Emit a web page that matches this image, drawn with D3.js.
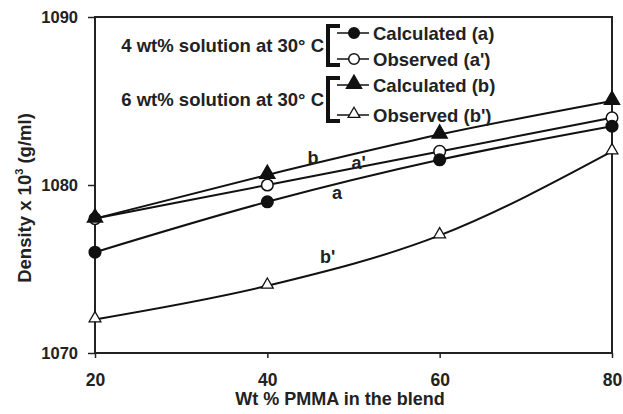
<!DOCTYPE html>
<html>
<head>
<meta charset="utf-8">
<script src="https://cdn.jsdelivr.net/npm/d3@7"></script>
<style>
  body { margin: 0; background: #fff; }
  text { font-family: "Liberation Sans", Arial, sans-serif; font-weight: bold; fill: #222; }
</style>
</head>
<body>
<svg id="chart" width="623" height="414"></svg>
<script>
// data
var pmma = [20, 40, 60, 80];
var calcA = [1076, 1079, 1081.5, 1083.5];   // calculated (a)
var obsA  = [1078, 1080, 1082, 1084];       // observed (a')
var calcB = [1078, 1080.6, 1083, 1085];     // calculated (b)
var obsB  = [1072, 1074, 1077, 1082];       // observed (b')
var xTicks = [20, 40, 60, 80];
var yTicks = [1070, 1080, 1090];

// line tags written on the curves
var tagNames = ["b", "a'", "a", "b'"];
var tagX = [45.3, 50.6, 48.1, 47.0];
var tagY = [1081.6, 1081.3, 1079.5, 1075.7];

var series = [
  {name: "Calculated (a)", vals: calcA, mark: "circle", fill: "#111"},
  {name: "Observed (a')",  vals: obsA,  mark: "circle", fill: "#fff"},
  {name: "Calculated (b)", vals: calcB, mark: "triangle", fill: "#111"},
  {name: "Observed (b')",  vals: obsB,  mark: "triangle", fill: "#fff"}
];

var svg = d3.select("#chart");
var x = d3.scaleLinear().domain([20, 80]).range([95, 612]);
var y = d3.scaleLinear().domain([1070, 1090]).range([353, 17]);

// frame
svg.append("rect").attr("x", 95).attr("y", 17).attr("width", 517).attr("height", 336)
   .attr("fill", "none").attr("stroke", "#222").attr("stroke-width", 2);

var yAxis = svg.append("g").attr("transform", "translate(95,0)")
  .call(d3.axisLeft(y).tickValues(yTicks).tickSize(7).tickFormat(d3.format("d")));
yAxis.select(".domain").remove();
yAxis.selectAll("line").attr("stroke", "#222").attr("stroke-width", 1.5);
yAxis.selectAll("text").attr("font-size", 16.5).attr("font-weight", "normal")
  .attr("x", -17).attr("fill", "#222");

var xAxis = svg.append("g").attr("transform", "translate(0,353)")
  .call(d3.axisBottom(x).tickValues(xTicks).tickSize(5).tickFormat(d3.format("d")));
xAxis.select(".domain").remove();
xAxis.selectAll("line").attr("stroke", "#222").attr("stroke-width", 1.5);
xAxis.selectAll("text").attr("font-size", 17.5).attr("y", 21).attr("fill", "#222");

// axis titles
svg.append("text").attr("x", 340).attr("y", 405).attr("text-anchor", "middle")
   .attr("font-size", 18).text("Wt % PMMA in the blend");
var yt = svg.append("text").attr("transform", "translate(31,198) rotate(-90)")
   .attr("text-anchor", "middle").attr("font-size", 18.5);
yt.append("tspan").text("Density x 10");
yt.append("tspan").attr("font-size", 11).attr("dy", -8).text("3");
yt.append("tspan").attr("dy", 8).text(" (g/ml)");

var line = d3.line().x(function(d, i) { return x(pmma[i]); }).y(function(d) { return y(d); })
  .curve(d3.curveMonotoneX);

function drawMark(g, s, cx, cy, big) {
  if (s.mark == "circle") {
    g.append("circle").attr("cx", cx).attr("cy", cy).attr("r", big ? 5.8 : 5.3)
     .attr("fill", s.fill).attr("stroke", "#111").attr("stroke-width", 1.5);
  } else {
    var h = s.fill == "#fff" ? 11.5 : 15;
    var sym = d3.symbol().type(d3.symbolTriangle).size(h * h * 0.45);
    g.append("path").attr("d", sym()).attr("transform", "translate(" + cx + "," + (cy - 1) + ")")
     .attr("fill", s.fill).attr("stroke", "#111").attr("stroke-width", 1.3);
  }
}

series.forEach(function(s) {
  svg.append("path").attr("d", line(s.vals)).attr("fill", "none")
     .attr("stroke", "#111").attr("stroke-width", 2);
});
// marker order: filled triangle (b) on top of the open circle at 20
[3, 1, 0, 2].forEach(function(k) {
  var s = series[k];
  var g = svg.append("g");
  s.vals.forEach(function(v, i) { drawMark(g, s, x(pmma[i]), y(v), true); });
});

tagNames.forEach(function(t, i) {
  svg.append("text").attr("x", x(tagX[i])).attr("y", y(tagY[i]) + 6)
     .attr("text-anchor", "middle").attr("font-size", 18).text(t);
});

// bracket legend
var groups = ["4 wt% solution at 30° C", "6 wt% solution at 30° C"];
var rowY = [33, 59, 85, 115];
groups.forEach(function(label, k) {
  var y0 = rowY[k * 2], y1 = rowY[k * 2 + 1];
  svg.append("text").attr("x", 324).attr("y", (y0 + y1) / 2 + 6).attr("text-anchor", "end")
     .attr("font-size", 18.5).text(label);
  svg.append("path")
     .attr("d", "M340," + (y0 - 7) + "H328V" + (y1 + 6) + "H340")
     .attr("fill", "none").attr("stroke", "#111").attr("stroke-width", 4);
});
series.forEach(function(s, i) {
  var g = svg.append("g");
  var ry = rowY[i];
  g.append("line").attr("x1", 337).attr("x2", 369).attr("y1", ry).attr("y2", ry)
   .attr("stroke", "#111").attr("stroke-width", 1.5);
  drawMark(g, s, 354, ry, false);
  g.append("text").attr("x", 373).attr("y", ry + 6.5).attr("font-size", 18.5).text(s.name);
});
</script>
</body>
</html>
